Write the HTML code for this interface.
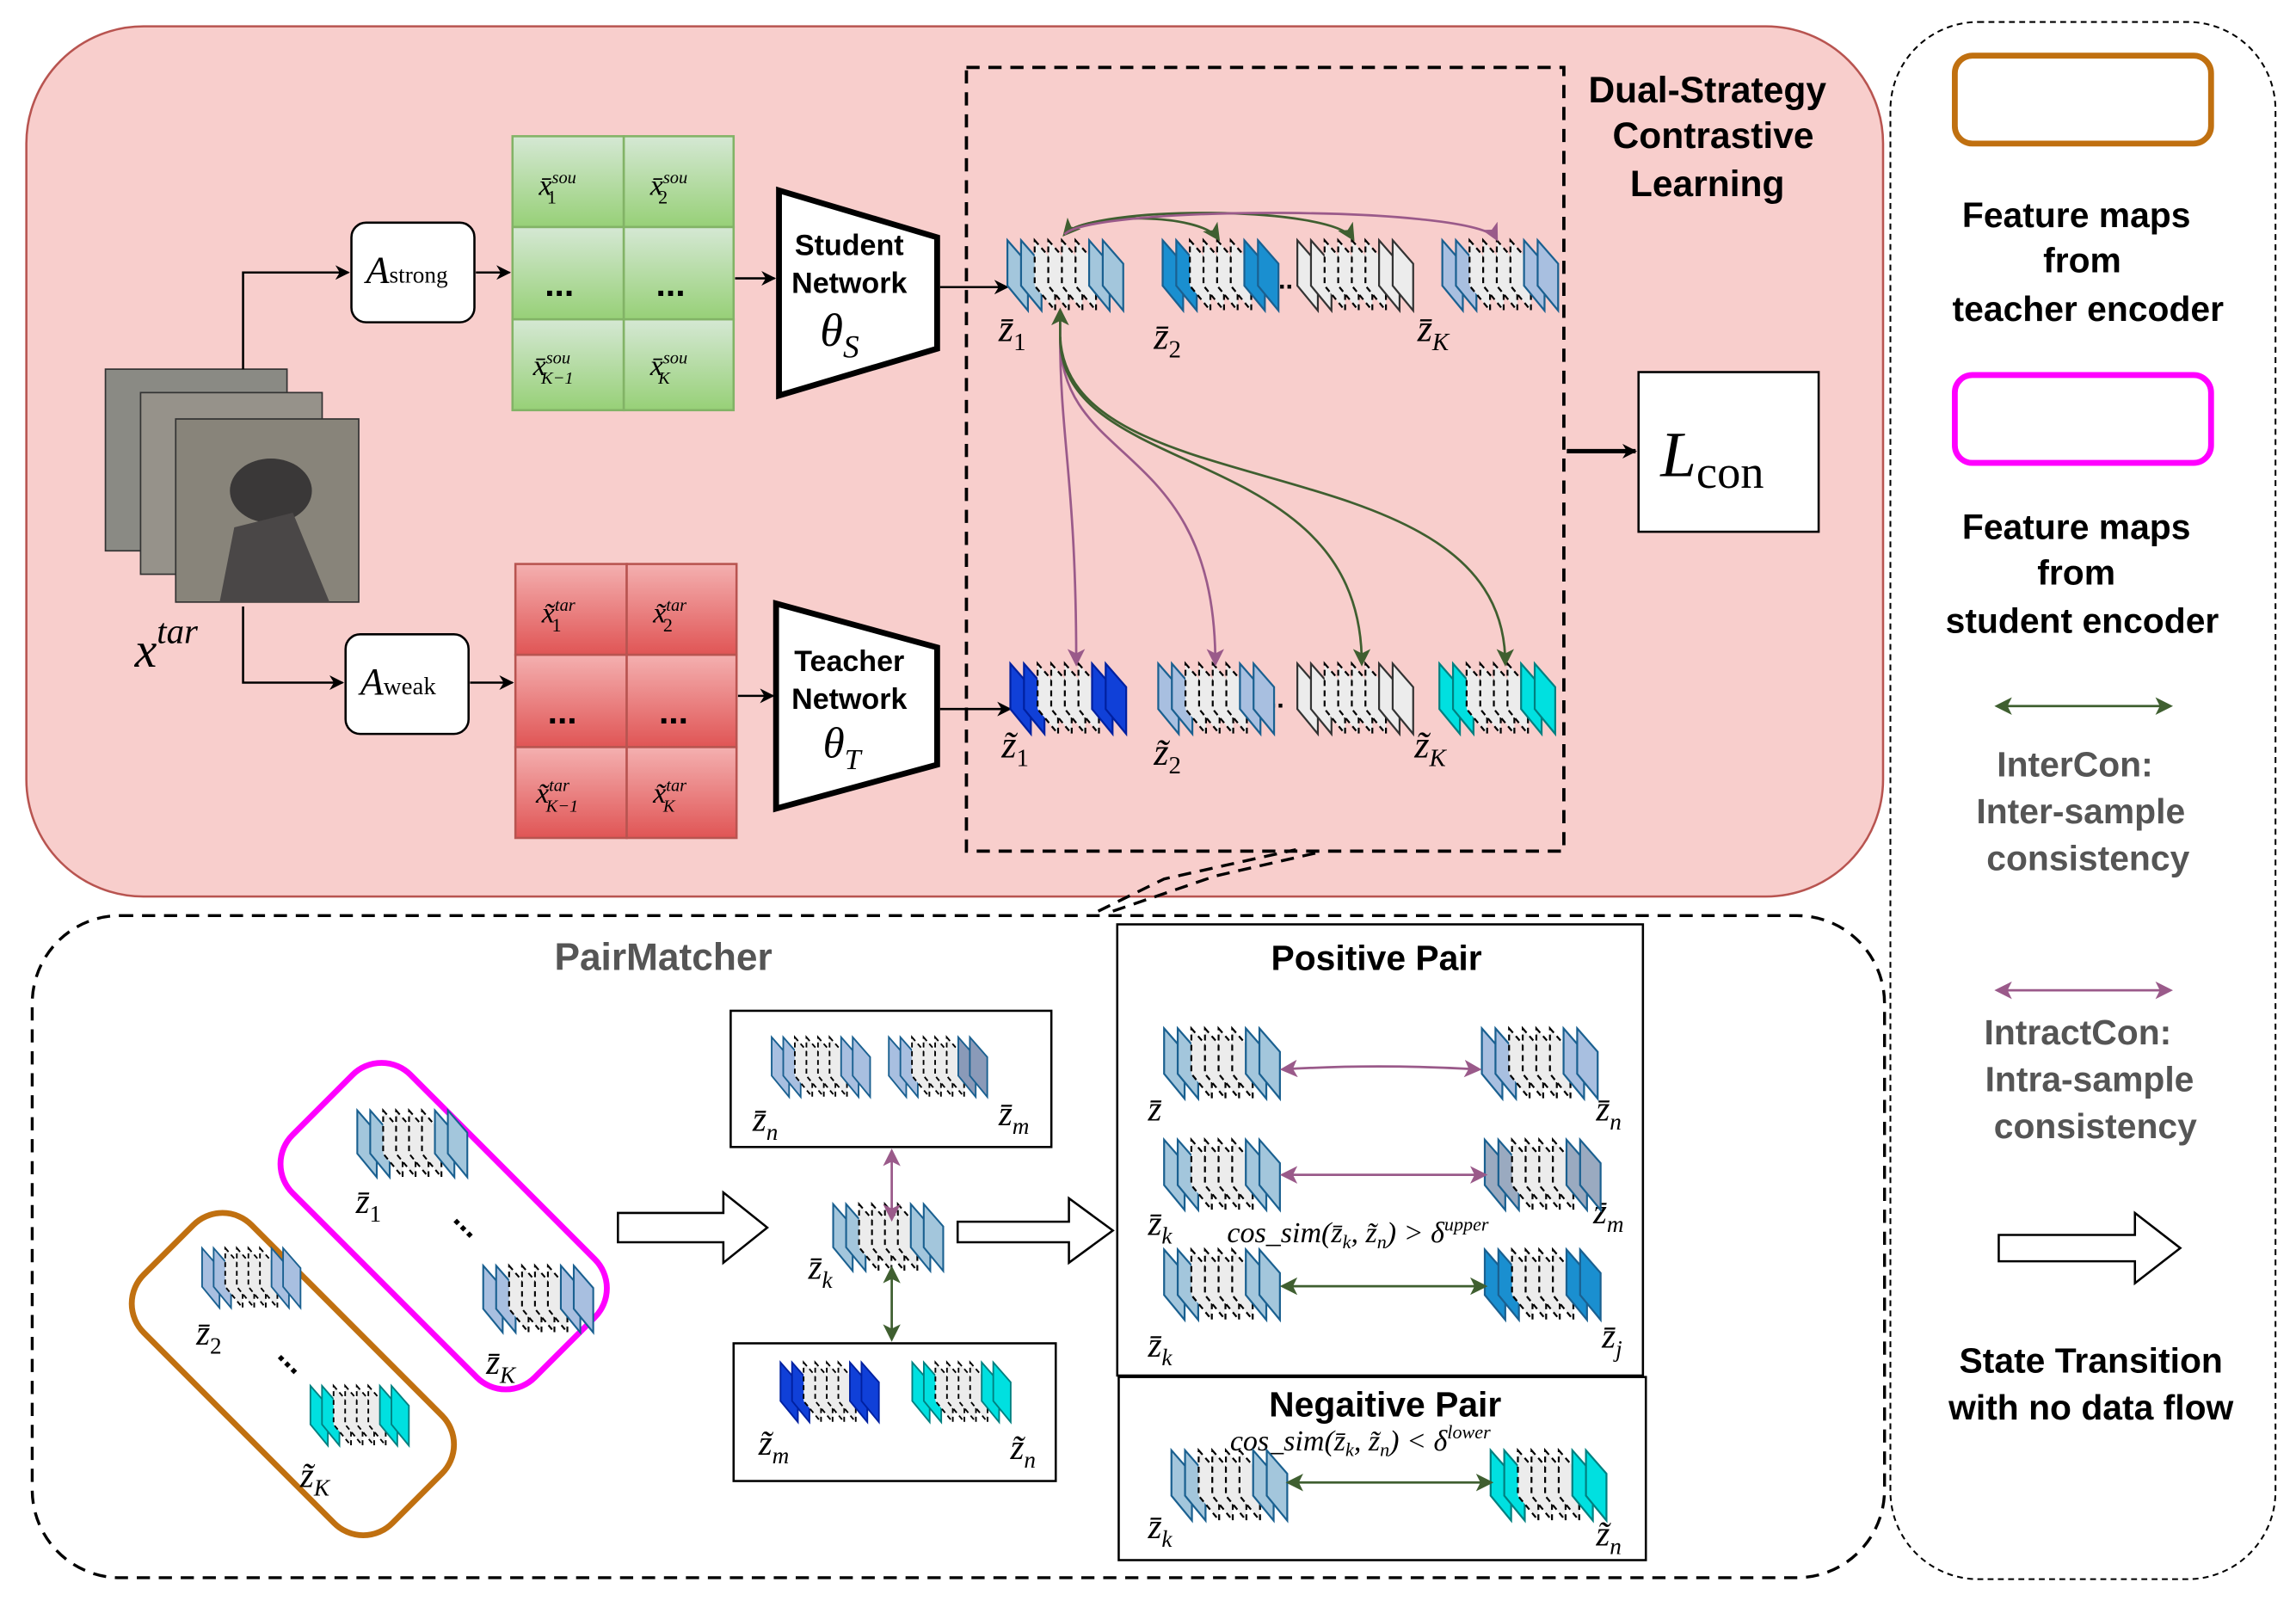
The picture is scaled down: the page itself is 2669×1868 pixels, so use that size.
<!DOCTYPE html>
<html><head><meta charset="utf-8"><style>
html,body{margin:0;padding:0;background:#fff}
svg{display:block}
.s{font-family:"Liberation Sans",sans-serif;font-weight:bold}
.m{font-family:"Liberation Serif",serif;font-style:italic}
</style></head><body>
<svg id="sv" width="2669" height="1868" viewBox="0 0 1568 1097" preserveAspectRatio="none" xmlns="http://www.w3.org/2000/svg">
<defs>
<marker id="ak" markerWidth="10" markerHeight="10" refX="9" refY="5" orient="auto" markerUnits="userSpaceOnUse"><path d="M0,0 L10,5 L0,10 L3,5z" fill="#000"/></marker>
<marker id="ag" markerWidth="12" markerHeight="12" refX="10" refY="6" orient="auto-start-reverse" markerUnits="userSpaceOnUse"><path d="M0,0 L12,6 L0,12 L3,6z" fill="#3f5f30"/></marker>
<marker id="ap" markerWidth="12" markerHeight="12" refX="10" refY="6" orient="auto-start-reverse" markerUnits="userSpaceOnUse"><path d="M0,0 L12,6 L0,12 L3,6z" fill="#9a5a8a"/></marker>
<linearGradient id="gg" x1="0" y1="0" x2="0" y2="1"><stop offset="0" stop-color="#d5e8d4"/><stop offset="1" stop-color="#97d077"/></linearGradient>
<linearGradient id="gr" x1="0" y1="0" x2="0" y2="1"><stop offset="0" stop-color="#f4b0b0"/><stop offset="1" stop-color="#e05555"/></linearGradient>
</defs>
<rect x="18" y="18" width="1268" height="594" rx="80" fill="#f8cecc" stroke="#b85450" stroke-width="1.5"/>
<rect x="1291" y="15" width="263" height="1063" rx="60" fill="#fff" stroke="#000" stroke-width="1.2" stroke-dasharray="4,3"/>
<rect x="22" y="625" width="1265" height="452" rx="60" fill="#fff" stroke="#000" stroke-width="2" stroke-dasharray="9,6"/>
<rect x="660" y="46" width="408" height="535" fill="none" stroke="#000" stroke-width="2.2" stroke-dasharray="9,6"/>
<path d="M750,622 L795,600 L885,580 M760,622 L830,598 L900,582" stroke="#000" stroke-width="2" stroke-dasharray="9,6" fill="none"/>

<rect x="72" y="252" width="124" height="124" fill="#8a8a84" stroke="#333"/>
<rect x="96" y="268" width="124" height="124" fill="#96928a" stroke="#333"/>
<rect x="120" y="286" width="125" height="125" fill="#88847a" stroke="#333"/>
<ellipse cx="185" cy="335" rx="28" ry="22" fill="#3a3838"/>
<path d="M150,411 L160,360 L200,350 L225,411z" fill="#4a4747"/>
<text x="92" y="455" class="m" font-size="34">x<tspan font-size="24" dy="-16">tar</tspan></text>

<path d="M166,252 L166,186 L238,186" fill="none" stroke="#000" stroke-width="1.5" marker-end="url(#ak)"/>
<path d="M166,414 L166,466 L234,466" fill="none" stroke="#000" stroke-width="1.5" marker-end="url(#ak)"/>
<rect x="240" y="152" width="84" height="68" rx="10" fill="#fff" stroke="#000" stroke-width="1.5"/>
<text x="250" y="193" class="m" font-size="26">A<tspan font-size="16" font-style="normal">strong</tspan></text>
<rect x="236" y="433" width="84" height="68" rx="10" fill="#fff" stroke="#000" stroke-width="1.5"/>
<text x="246" y="474" class="m" font-size="26">A<tspan font-size="17" font-style="normal">weak</tspan></text>
<line x1="325" y1="186" x2="348" y2="186" stroke="#000" stroke-width="1.5" marker-end="url(#ak)"/>
<line x1="321" y1="466" x2="350" y2="466" stroke="#000" stroke-width="1.5" marker-end="url(#ak)"/>

<g stroke="#82b366" stroke-width="1.5" fill="url(#gg)">
<rect x="350" y="93" width="76" height="62"/><rect x="426" y="93" width="75" height="62"/>
<rect x="350" y="155" width="76" height="63"/><rect x="426" y="155" width="75" height="63"/>
<rect x="350" y="218" width="76" height="62"/><rect x="426" y="218" width="75" height="62"/>
</g>
<g class="m" font-size="20">
<text x="368" y="133">x̄<tspan font-size="12" dy="-8">sou</tspan><tspan font-size="13" dx="-20" dy="14" font-style="normal">1</tspan></text>
<text x="444" y="133">x̄<tspan font-size="12" dy="-8">sou</tspan><tspan font-size="13" dx="-20" dy="14" font-style="normal">2</tspan></text>
<text x="364" y="256">x̄<tspan font-size="12" dy="-8">sou</tspan><tspan font-size="12" dx="-20" dy="14">K−1</tspan></text>
<text x="444" y="256">x̄<tspan font-size="12" dy="-8">sou</tspan><tspan font-size="12" dx="-20" dy="14">K</tspan></text>
</g>
<text x="372" y="202" class="s" font-size="24">...</text><text x="448" y="202" class="s" font-size="24">...</text>
<g stroke="#b85450" stroke-width="1.5" fill="url(#gr)">
<rect x="352" y="385" width="76" height="62"/><rect x="428" y="385" width="75" height="62"/>
<rect x="352" y="447" width="76" height="63"/><rect x="428" y="447" width="75" height="63"/>
<rect x="352" y="510" width="76" height="62"/><rect x="428" y="510" width="75" height="62"/>
</g>
<g class="m" font-size="20">
<text x="370" y="425">x̃<tspan font-size="12" dy="-8">tar</tspan><tspan font-size="13" dx="-16" dy="14" font-style="normal">1</tspan></text>
<text x="446" y="425">x̃<tspan font-size="12" dy="-8">tar</tspan><tspan font-size="13" dx="-16" dy="14" font-style="normal">2</tspan></text>
<text x="366" y="548">x̃<tspan font-size="12" dy="-8">tar</tspan><tspan font-size="12" dx="-16" dy="14">K−1</tspan></text>
<text x="446" y="548">x̃<tspan font-size="12" dy="-8">tar</tspan><tspan font-size="12" dx="-16" dy="14">K</tspan></text>
</g>
<text x="374" y="494" class="s" font-size="24">...</text><text x="450" y="494" class="s" font-size="24">...</text>
<line x1="502" y1="190" x2="529" y2="190" stroke="#000" stroke-width="1.5" marker-end="url(#ak)"/>
<line x1="504" y1="475" x2="528" y2="475" stroke="#000" stroke-width="1.5" marker-end="url(#ak)"/>

<polygon points="532,130 640,162 640,238 532,270" fill="#fff" stroke="#000" stroke-width="4"/>
<text x="580" y="174" class="s" font-size="20" text-anchor="middle">Student</text>
<text x="580" y="200" class="s" font-size="20" text-anchor="middle">Network</text>
<text x="560" y="236" class="m" font-size="32">θ<tspan font-size="22" dy="8">S</tspan></text>
<polygon points="530,412 640,442 640,522 530,552" fill="#fff" stroke="#000" stroke-width="4"/>
<text x="580" y="458" class="s" font-size="20" text-anchor="middle">Teacher</text>
<text x="580" y="484" class="s" font-size="20" text-anchor="middle">Network</text>
<text x="562" y="517" class="m" font-size="30">θ<tspan font-size="20" dy="8">T</tspan></text>
<line x1="642" y1="196" x2="688" y2="196" stroke="#000" stroke-width="1.5" marker-end="url(#ak)"/>
<line x1="642" y1="484" x2="690" y2="484" stroke="#000" stroke-width="1.5" marker-end="url(#ak)"/>

<text x="1166" y="70" class="s" font-size="25" text-anchor="middle">Dual-Strategy</text>
<text x="1170" y="101" class="s" font-size="25" text-anchor="middle">Contrastive</text>
<text x="1166" y="134" class="s" font-size="25" text-anchor="middle">Learning</text>

<line x1="1070" y1="308" x2="1117" y2="308" stroke="#000" stroke-width="3" marker-end="url(#ak)"/>
<rect x="1119" y="254" width="123" height="109" fill="#fff" stroke="#000" stroke-width="1.5"/>
<text x="1134" y="325" class="m" font-size="44">L<tspan font-size="32" font-style="normal" dy="8">con</tspan></text>

<text x="868" y="197" class="s" font-size="18">...</text>
<text x="862" y="483" class="s" font-size="18">...</text>
<g class="m" font-size="26">
<text x="682" y="233">z̄<tspan font-size="17" font-style="normal" dy="6">1</tspan></text>
<text x="788" y="238">z̄<tspan font-size="17" font-style="normal" dy="6">2</tspan></text>
<text x="968" y="233">z̄<tspan font-size="17" dy="6">K</tspan></text>
<text x="684" y="517">z̃<tspan font-size="17" font-style="normal" dy="6">1</tspan></text>
<text x="788" y="522">z̃<tspan font-size="17" font-style="normal" dy="6">2</tspan></text>
<text x="966" y="517">z̃<tspan font-size="17" dy="6">K</tspan></text>
</g>

<text x="453" y="662" class="s" font-size="26" fill="#555" text-anchor="middle">PairMatcher</text>
<g transform="translate(303,837) rotate(45)"><rect x="-117" y="-57" width="234" height="114" rx="28" fill="none" stroke="#ff00ff" stroke-width="4"/></g>
<g transform="translate(200,938) rotate(45)"><rect x="-120" y="-52" width="240" height="104" rx="28" fill="none" stroke="#c07010" stroke-width="4"/></g>
<g class="m" font-size="24">
<text x="243" y="828">z̄<tspan font-size="16" font-style="normal" dy="6">1</tspan></text>
<text x="332" y="938">z̄<tspan font-size="16" dy="6">K</tspan></text>
<text x="134" y="918">z̄<tspan font-size="16" font-style="normal" dy="6">2</tspan></text>
<text x="205" y="1015">z̃<tspan font-size="16" dy="6">K</tspan></text>
</g>
<text x="310" y="842" class="s" font-size="22" transform="rotate(45 320 836)">...</text>
<text x="190" y="935" class="s" font-size="22" transform="rotate(45 200 929)">...</text>

<polygon points="422,828 494,828 494,814 524,838 494,862 494,848 422,848" fill="#fff" stroke="#000" stroke-width="1.5"/>
<polygon points="654,834 730,834 730,818 760,840 730,862 730,848 654,848" fill="#fff" stroke="#000" stroke-width="1.5"/>
<polygon points="1365,843 1458,843 1458,828 1489,852 1458,876 1458,861 1365,861" fill="#fff" stroke="#000" stroke-width="1.5"/>

<rect x="499" y="690" width="219" height="93" fill="#fff" stroke="#000" stroke-width="1.5"/>
<rect x="501" y="917" width="220" height="94" fill="#fff" stroke="#000" stroke-width="1.5"/>
<g class="m" font-size="24">
<text x="514" y="772">z̄<tspan font-size="16" dy="6">n</tspan></text>
<text x="682" y="768">z̄<tspan font-size="16" dy="6">m</tspan></text>
<text x="552" y="873">z̄<tspan font-size="16" dy="6">k</tspan></text>
<text x="518" y="993">z̃<tspan font-size="16" dy="6">m</tspan></text>
<text x="690" y="996">z̃<tspan font-size="16" dy="6">n</tspan></text>
</g>

<rect x="763" y="631" width="359" height="308" fill="#fff" stroke="#000" stroke-width="1.5"/>
<rect x="764" y="940" width="360" height="125" fill="#fff" stroke="#000" stroke-width="1.5"/>
<text x="940" y="662" class="s" font-size="24" text-anchor="middle">Positive Pair</text>
<text x="946" y="967" class="s" font-size="24" text-anchor="middle">Negaitive Pair</text>
<g class="m" font-size="24">
<text x="784" y="765">z̄</text>
<text x="1090" y="765">z̄<tspan font-size="16" dy="6">n</tspan></text>
<text x="784" y="843">z̄<tspan font-size="16" dy="6">k</tspan></text>
<text x="1088" y="835">z̄<tspan font-size="16" dy="6">m</tspan></text>
<text x="784" y="926">z̄<tspan font-size="16" dy="6">k</tspan></text>
<text x="1094" y="920">z̄<tspan font-size="16" dy="6">j</tspan></text>
<text x="784" y="1050">z̄<tspan font-size="16" dy="6">k</tspan></text>
<text x="1090" y="1055">z̃<tspan font-size="16" dy="6">n</tspan></text>
<text x="838" y="848" font-size="20">cos_sim(z̄<tspan font-size="13" dy="4">k</tspan><tspan dy="-4">, z̃</tspan><tspan font-size="13" dy="4">n</tspan><tspan dy="-4">) &gt; δ</tspan><tspan font-size="13" dy="-8">upper</tspan></text>
<text x="840" y="990" font-size="20">cos_sim(z̄<tspan font-size="13" dy="4">k</tspan><tspan dy="-4">, z̃</tspan><tspan font-size="13" dy="4">n</tspan><tspan dy="-4">) &lt; δ</tspan><tspan font-size="13" dy="-8">lower</tspan></text>
</g>

<rect x="1335" y="38" width="175" height="60" rx="12" fill="none" stroke="#c07010" stroke-width="4"/>
<rect x="1335" y="256" width="175" height="60" rx="12" fill="none" stroke="#ff00ff" stroke-width="4"/>
<g class="s" font-size="24" text-anchor="middle">
<text x="1418" y="155">Feature maps</text><text x="1422" y="186">from</text><text x="1426" y="219">teacher encoder</text>
<text x="1418" y="368">Feature maps</text><text x="1418" y="399">from</text><text x="1422" y="432">student encoder</text>
<g fill="#555"><text x="1417" y="530">InterCon:</text><text x="1421" y="562">Inter-sample</text><text x="1426" y="594">consistency</text>
<text x="1419" y="713">IntractCon:</text><text x="1427" y="745">Intra-sample</text><text x="1431" y="777">consistency</text></g>
<text x="1428" y="937">State Transition</text><text x="1428" y="969">with no data flow</text>
</g>
<line x1="1364" y1="482" x2="1482" y2="482" stroke="#3f5f30" stroke-width="1.6" marker-start="url(#ag)" marker-end="url(#ag)"/>
<line x1="1364" y1="676" x2="1482" y2="676" stroke="#9a5a8a" stroke-width="1.6" marker-start="url(#ap)" marker-end="url(#ap)"/>

<g id="stacks"></g>

<g fill="none" stroke-width="1.6">
<path d="M727,160 C740,145 820,145 832,163" stroke="#3f5f30" marker-start="url(#ag)" marker-end="url(#ag)"/>
<path d="M727,160 C745,140 910,140 924,163" stroke="#3f5f30" marker-end="url(#ag)"/>
<path d="M727,160 C745,140 1010,140 1022,163" stroke="#9a5a8a" marker-end="url(#ap)"/>
<path d="M724,212 L724,230 C724,300 735,330 735,453" stroke="#9a5a8a" marker-start="url(#ap)" marker-end="url(#ap)"/>
<path d="M724,230 C724,320 830,300 830,453" stroke="#9a5a8a" marker-end="url(#ap)"/>
<path d="M724,230 C724,330 930,300 930,453" stroke="#3f5f30" marker-end="url(#ag)"/>
<path d="M724,230 C730,350 1028,300 1028,453" stroke="#3f5f30" marker-end="url(#ag)"/>
<path d="M724,212 L724,232" stroke="#3f5f30" marker-start="url(#ag)"/>
<line x1="609" y1="786" x2="609" y2="832" stroke="#9a5a8a" marker-start="url(#ap)" marker-end="url(#ap)"/>
<line x1="609" y1="866" x2="609" y2="914" stroke="#3f5f30" marker-start="url(#ag)" marker-end="url(#ag)"/>
<path d="M876,730 Q940,726 1010,730" stroke="#9a5a8a" marker-start="url(#ap)" marker-end="url(#ap)"/>
<line x1="876" y1="802" x2="1014" y2="802" stroke="#9a5a8a" marker-start="url(#ap)" marker-end="url(#ap)"/>
<line x1="876" y1="878" x2="1014" y2="878" stroke="#3f5f30" marker-start="url(#ag)" marker-end="url(#ag)"/>
<line x1="880" y1="1012" x2="1018" y2="1012" stroke="#3f5f30" marker-start="url(#ag)" marker-end="url(#ag)"/>
</g>
</svg>
<script>
(function(){
var g=document.getElementById('stacks'),NS='http://www.w3.org/2000/svg';
var LB='#a3c6dc',BL='#1a8fd0',PB='#a8bfe0',DB='#1040d8',CY='#00e0e0';
function stack(x,y,c1,c2,sc){
 sc=sc||1;var gr=document.createElementNS(NS,'g');
 gr.setAttribute('transform','translate('+x+','+y+') scale('+sc+')');
 for(var i=0;i<8;i++){
  var p=document.createElementNS(NS,'polygon');var ox=i*9.3;
  p.setAttribute('points',ox+',0 '+(ox+14)+',16 '+(ox+14)+',48 '+ox+',31');
  var col=(i<2)?c1:(i>5?c2:'#ececec');
  p.setAttribute('fill',col);
  if(i>=2&&i<=5){p.setAttribute('stroke','#000');p.setAttribute('stroke-dasharray','4,3');p.setAttribute('stroke-width','1.3');}
  else{p.setAttribute('stroke',col==CY?'#008080':(col==DB?'#0020a0':(col=='#ececec'?'#333':'#1a6090')));p.setAttribute('stroke-width','1.3');}
  gr.appendChild(p);
 }
 g.appendChild(gr);
}
stack(688,164,LB,LB);stack(794,164,BL,BL);stack(886,164,'#ececec','#ececec');stack(985,164,PB,PB);
stack(690,453,DB,DB);stack(791,453,PB,PB);stack(886,453,'#ececec','#ececec');stack(983,453,CY,CY);
stack(244,758,LB,LB,0.95);stack(330,864,PB,PB,0.95);stack(138,852,PB,PB,0.85);stack(212,946,CY,CY,0.85);
stack(527,708,PB,PB,0.85);stack(607,708,PB,'#8a9ab8',0.85);stack(569,822,LB,LB,0.95);
stack(533,930,DB,DB,0.85);stack(623,930,CY,CY,0.85);
stack(795,702,LB,LB);stack(1012,702,PB,PB);stack(795,778,LB,LB);stack(1014,778,'#9aaac0','#9aaac0');
stack(795,853,LB,LB);stack(1014,853,BL,BL);stack(800,990,LB,LB);stack(1018,990,CY,CY);
})();
</script>
</body></html>
